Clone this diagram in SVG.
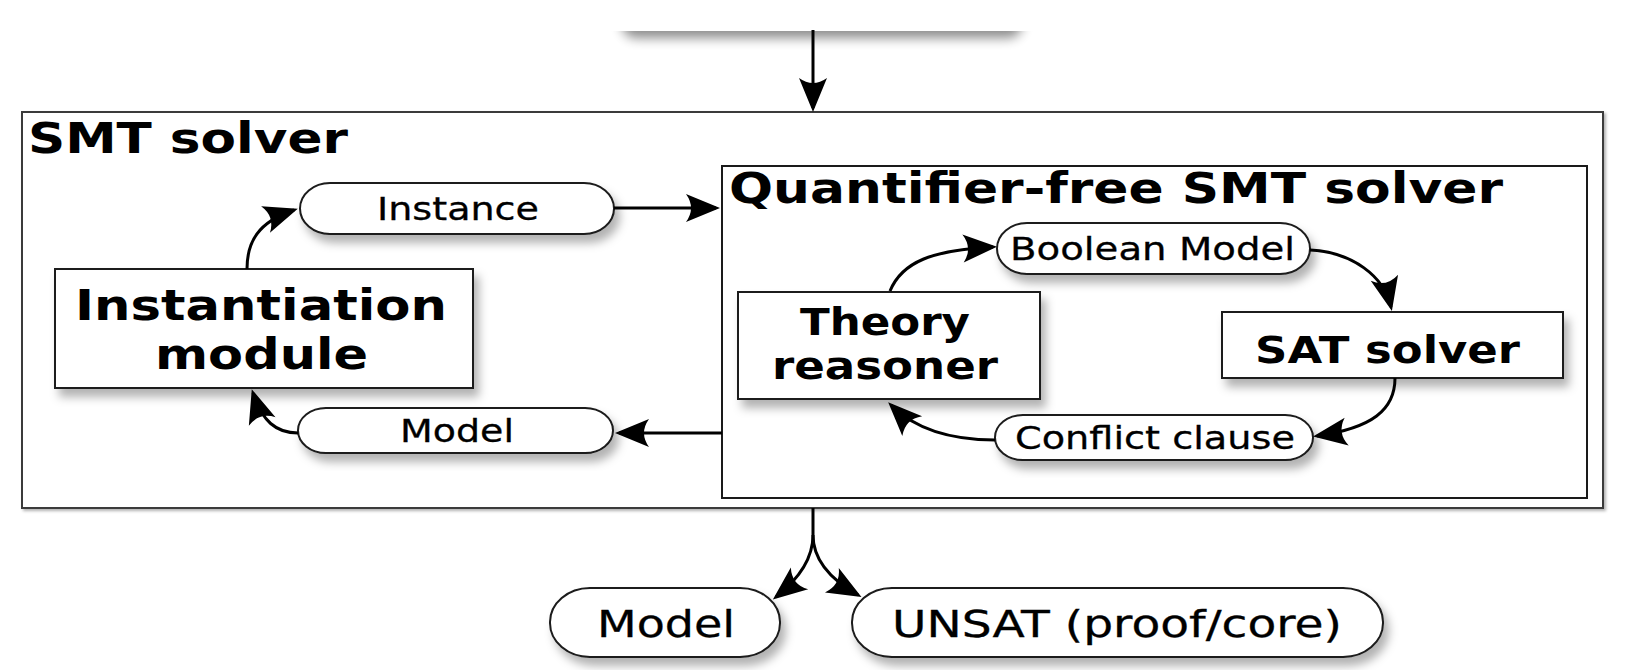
<svg xmlns="http://www.w3.org/2000/svg" width="1650" height="670" viewBox="0 0 1650 670">
<defs>
  <style>
    .box{fill:#fff;stroke:#1a1a1a;stroke-width:2}
    .frame{fill:#fff;stroke:#3a3a3a;stroke-width:2}
    .conn{fill:none;stroke:#000;stroke-width:3}
    .title{font-family:"DejaVu Sans","Verdana",sans-serif;font-weight:bold;font-size:43px;fill:#000}
    .node{font-family:"DejaVu Sans","Verdana",sans-serif;font-weight:bold;font-size:37px;fill:#000}
    .lab{font-family:"DejaVu Sans","Verdana",sans-serif;font-size:32px;fill:#000;stroke:#000;stroke-width:0.3}
    .out{font-family:"DejaVu Sans","Verdana",sans-serif;font-size:38px;fill:#000;stroke:#000;stroke-width:0.3}
  </style>
  <filter id="sh" x="-10%" y="-20%" width="130%" height="160%">
    <feDropShadow dx="5" dy="8" stdDeviation="5" flood-color="#000" flood-opacity="0.3"/>
  </filter>
  <filter id="sh2" x="-5%" y="-5%" width="110%" height="115%">
    <feDropShadow dx="2" dy="2" stdDeviation="1.5" flood-color="#000" flood-opacity="0.3"/>
  </filter>
  <filter id="blur" x="-20%" y="-100%" width="140%" height="300%">
    <feGaussianBlur stdDeviation="6"/>
  </filter>
  <marker id="ah" markerUnits="userSpaceOnUse" viewBox="-36 -16 38 32" markerWidth="38" markerHeight="32" refX="-4" refY="0" orient="auto">
    <path d="M0,0 L-34,-14 Q-24,0 -34,14 Z" fill="#000"/>
  </marker>
</defs>

<!-- cut-off node shadow at top -->
<rect x="622" y="6" width="400" height="32" rx="14" fill="#000" opacity="0.45" filter="url(#blur)"/>
<rect x="0" y="0" width="1650" height="31" fill="#fff"/>

<g id="smt-solver">
  <rect class="frame" x="22" y="112" width="1581" height="396" filter="url(#sh2)"/>
  <text class="title" transform="translate(28 153) scale(1.25 1)" textLength="256" lengthAdjust="spacingAndGlyphs">SMT solver</text>
</g>

<g id="qf-solver">
  <rect class="box" x="722" y="166" width="865" height="332"/>
  <text class="title" transform="translate(729 203) scale(1.25 1)" textLength="619.2" lengthAdjust="spacingAndGlyphs">Quantifier-free SMT solver</text>
</g>

<g id="instantiation">
  <rect class="box" x="55" y="269" width="418" height="119" filter="url(#sh)"/>
  <text class="title" transform="translate(75 320) scale(1.25 1)" textLength="297.6" lengthAdjust="spacingAndGlyphs">Instantiation</text>
  <text class="title" transform="translate(155 369) scale(1.25 1)" textLength="170.4" lengthAdjust="spacingAndGlyphs">module</text>
</g>

<g id="instance">
  <rect class="box" x="300" y="183" width="314" height="51" rx="30" ry="25.5" filter="url(#sh)"/>
  <text class="lab" transform="translate(377 220) scale(1.25 1)" textLength="129.6" lengthAdjust="spacingAndGlyphs">Instance</text>
</g>

<g id="model-feedback">
  <rect class="box" x="298" y="408" width="315" height="45" rx="28" ry="22.5" filter="url(#sh)"/>
  <text class="lab" transform="translate(400 442) scale(1.25 1)" textLength="91.2" lengthAdjust="spacingAndGlyphs">Model</text>
</g>

<g id="theory">
  <rect class="box" x="738" y="292" width="302" height="107" filter="url(#sh)"/>
  <text class="node" transform="translate(800 335) scale(1.25 1)" textLength="136" lengthAdjust="spacingAndGlyphs">Theory</text>
  <text class="node" transform="translate(772 379) scale(1.25 1)" textLength="180.8" lengthAdjust="spacingAndGlyphs">reasoner</text>
</g>

<g id="boolean-model">
  <rect class="box" x="997" y="223" width="313" height="51" rx="30" ry="25.5" filter="url(#sh)"/>
  <text class="lab" transform="translate(1010 260) scale(1.25 1)" textLength="228" lengthAdjust="spacingAndGlyphs">Boolean Model</text>
</g>

<g id="sat">
  <rect class="box" x="1222" y="312" width="341" height="66" filter="url(#sh)"/>
  <text class="node" transform="translate(1255 363) scale(1.25 1)" textLength="212" lengthAdjust="spacingAndGlyphs">SAT solver</text>
</g>

<g id="conflict">
  <rect class="box" x="995" y="415" width="318" height="45" rx="28" ry="22.5" filter="url(#sh)"/>
  <text class="lab" transform="translate(1015 449) scale(1.25 1)" textLength="224" lengthAdjust="spacingAndGlyphs">Conflict clause</text>
</g>

<g id="model-out">
  <rect class="box" x="550" y="588" width="230" height="69" rx="40" ry="34" filter="url(#sh)"/>
  <text class="out" transform="translate(597 637) scale(1.25 1)" textLength="110.4" lengthAdjust="spacingAndGlyphs">Model</text>
</g>

<g id="unsat-out">
  <rect class="box" x="852" y="588" width="531" height="69" rx="40" ry="34" filter="url(#sh)"/>
  <text class="out" transform="translate(892 637) scale(1.25 1)" textLength="360" lengthAdjust="spacingAndGlyphs">UNSAT (proof/core)</text>
</g>

<g id="connectors" marker-end="url(#ah)">
  <path class="conn" d="M813 30 L813 108"/>
  <path class="conn" d="M247 269 C247 242 258 222 294 210"/>
  <path class="conn" d="M298 433 C276 433 262 421 253 393"/>
  <path class="conn" d="M614 208 L716 208"/>
  <path class="conn" d="M722 433 L619 433"/>
  <path class="conn" d="M890 291 C902 262 932 250 993 247"/>
  <path class="conn" d="M1310 250 C1352 252 1384 276 1391 307"/>
  <path class="conn" d="M1395 378 C1395 410 1372 428 1317 436"/>
  <path class="conn" d="M995 440 C952 440 916 430 891 405"/>
  <path class="conn" d="M813 508 L813 535 C813 558 800 578 776 597"/>
  <path class="conn" d="M813 535 C813 558 828 578 858 595"/>
</g>
</svg>
